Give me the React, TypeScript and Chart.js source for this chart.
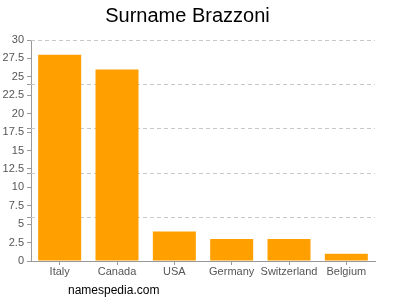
import React, { useEffect, useRef } from "react";
import { Chart, registerables } from "chart.js";

Chart.register(...registerables);

const titleText = "Surname Brazzoni";
const sourceText = "namespedia.com";
const categories = ["Italy", "Canada", "USA", "Germany", "Switzerland", "Belgium"];
const counts = [28, 26, 4, 3, 3, 1];
const yMax = 30;
const yLabelStep = 2.5;
const gridStep = 6;

const FONT = "'Liberation Sans', Arial, Helvetica, sans-serif";

const dashedGrid = {
  id: "dashedGrid",
  beforeDatasetsDraw(chart: any) {
    const { ctx, chartArea, scales } = chart;
    const y = scales.y;
    ctx.save();
    for (let v = gridStep; v <= yMax; v += gridStep) {
      const py = Math.round(y.getPixelForValue(v)) + 0.5;
      ctx.strokeStyle = "#c8c8c8";
      ctx.lineWidth = 1;
      ctx.setLineDash([4, 3]);
      ctx.beginPath();
      ctx.moveTo(chartArea.left, py);
      ctx.lineTo(chartArea.right, py);
      ctx.stroke();
      ctx.setLineDash([]);
      ctx.strokeStyle = "#999";
      ctx.beginPath();
      ctx.moveTo(chartArea.left - 4, py);
      ctx.lineTo(chartArea.left, py);
      ctx.stroke();
    }
    ctx.restore();
  },
};

const sourceLabel = {
  id: "sourceLabel",
  afterDraw(chart: any) {
    const { ctx } = chart;
    ctx.save();
    ctx.fillStyle = "#000";
    ctx.font = `12px ${FONT}`;
    ctx.textAlign = "left";
    ctx.textBaseline = "middle";
    ctx.fillText(sourceText, 68, 291);
    ctx.restore();
  },
};

export default function App() {
  const ref = useRef<HTMLCanvasElement | null>(null);
  useEffect(() => {
    if (!ref.current) return;
    const chart = new Chart(ref.current, {
      type: "bar",
      data: {
        labels: categories,
        datasets: [
          {
            data: counts,
            backgroundColor: "#ffa000",
            categoryPercentage: 1,
            barPercentage: 0.75,
          },
        ],
      },
      options: {
        responsive: false,
        animation: false,
        layout: { padding: { left: 0, right: 25, top: 0, bottom: 22 } },
        plugins: {
          legend: { display: false },
          tooltip: { enabled: false },
          title: {
            display: true,
            text: titleText,
            color: "#000",
            font: { family: FONT, size: 20, weight: "normal" },
            padding: { top: 4, bottom: 12 },
          },
        },
        scales: {
          x: {
            grid: { display: true, drawOnChartArea: false, offset: false, tickLength: 4, color: "#999" },
            border: { color: "#999" },
            ticks: { color: "#555", font: { family: FONT, size: 11 }, padding: 0, maxRotation: 0, autoSkip: false },
            afterFit: (scale: any) => {
              scale.height = 17;
            },
          },
          y: {
            min: 0,
            max: yMax,
            afterFit: (scale: any) => {
              scale.width = 31;
            },
            grid: { display: true, drawOnChartArea: false, tickLength: 4, color: "#999" },
            border: { color: "#999" },
            ticks: {
              stepSize: yLabelStep,
              color: "#555",
              font: { family: FONT, size: 11 },
              padding: 3,
            },
          },
        },
      },
      plugins: [dashedGrid, sourceLabel],
    });
    return () => chart.destroy();
  }, []);
  return (
    <div style={{ position: "absolute", left: 0, top: 0, width: 400, height: 300, background: "#fff" }}>
      <canvas ref={ref} width={400} height={300} style={{ display: "block" }} />
    </div>
  );
}
